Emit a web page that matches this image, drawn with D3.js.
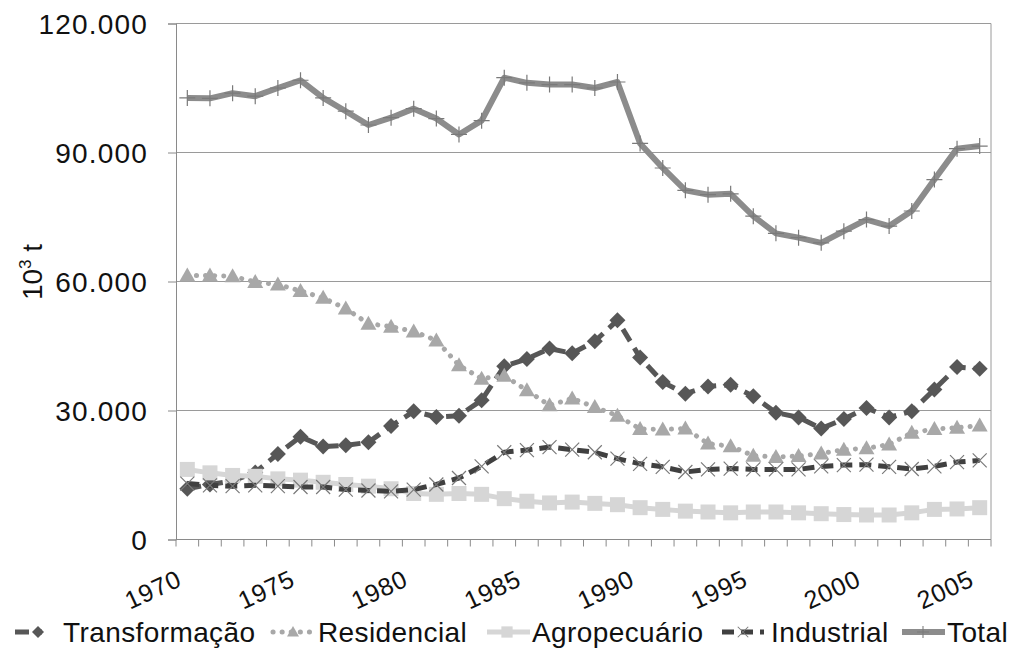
<!DOCTYPE html>
<html>
<head>
<meta charset="utf-8">
<script src="https://cdn.jsdelivr.net/npm/d3@7"></script>
<style>
  body { margin: 0; background: #fff; }
  text { font-family: "Liberation Sans", Arial, sans-serif; fill: #111; }
</style>
</head>
<body>
<script>
// years on the category axis
var years = d3.range(1970, 2006);
var yTicks = [0, 30000, 60000, 90000, 120000];

var transformacao = [11800, 12800, 13600, 15600, 19900, 23900, 21600, 21900, 22600, 26400,
  29800, 28500, 28800, 32400, 40300, 42000, 44400, 43300, 46100, 51000,
  42300, 36600, 33900, 35600, 36000, 33300, 29500, 28400, 25800, 28000,
  30600, 28400, 29800, 34900, 40100, 39700];
var residencial = [61400, 61400, 61200, 59900, 59300, 57800, 56200, 53700, 50200, 49500,
  48400, 46300, 40500, 37400, 38100, 34700, 31200, 32800, 30800, 28800,
  25700, 25600, 25800, 22300, 21700, 19500, 19200, 19400, 20000, 20900,
  21200, 22100, 24800, 25700, 26000, 26500];
var agropecuario = [16300, 15500, 14900, 14700, 14100, 13800, 13300, 12800, 12400, 11800,
  10700, 10500, 10700, 10500, 9500, 8900, 8500, 8700, 8400, 8100,
  7400, 7000, 6600, 6400, 6200, 6400, 6400, 6200, 6000, 5800,
  5700, 5700, 6200, 7000, 7100, 7400];
var industrial = [13000, 12600, 12400, 12600, 12400, 12200, 12200, 11600, 11400, 11200,
  11600, 12800, 14300, 17000, 20300, 20800, 21500, 20900, 20300, 18800,
  17600, 16900, 15700, 16300, 16500, 16300, 16300, 16300, 17000, 17300,
  17400, 16900, 16400, 17000, 18000, 18400];
var total = [102700, 102600, 103800, 103100, 105000, 106800, 102700, 99600, 96400, 98100,
  100200, 97900, 94200, 97400, 107400, 106200, 105800, 105800, 105000, 106400,
  92100, 86400, 81200, 80200, 80400, 75200, 71200, 70200, 69000, 71700,
  74400, 72900, 76400, 83700, 90900, 91500];

var width = 1014;
var height = 649;
var plot = { left: 176, right: 991, top: 23.5, bottom: 539.5 };

var series = [
  { name: "Transformação", values: transformacao, color: "#575757", width: 5, dash: "14,8", cap: "butt",
    marker: "M0,-8L8,0L0,8L-8,0Z", mFill: "#575757", mStroke: "none" },
  { name: "Residencial", values: residencial, color: "#a8a8a8", width: 5, dash: "0.1,9", cap: "round",
    marker: "M0,-8L8,6L-8,6Z", mFill: "#a8a8a8", mStroke: "none" },
  { name: "Agropecuário", values: agropecuario, color: "#d6d6d6", width: 5, dash: null, cap: "butt",
    marker: "M-7.5,-7.5h15v15h-15Z", mFill: "#d6d6d6", mStroke: "none" },
  { name: "Industrial", values: industrial, color: "#404040", width: 5, dash: "12,7", cap: "butt",
    marker: "M-7,-7L7,7M-7,7L7,-7", mFill: "none", mStroke: "#7a7a7a" },
  { name: "Total", values: total, color: "#8c8c8c", width: 6, dash: null, cap: "butt",
    marker: "M-8,0H8M0,-8V8", mFill: "none", mStroke: "#7a7a7a" }
];

var legendPos = [
  { sx: 15, ex: 42, mx: 38, tx: 63 },
  { sx: 273, ex: 313, mx: 293, tx: 318 },
  { sx: 487, ex: 530, mx: 507, tx: 532 },
  { sx: 722, ex: 764, mx: 743, tx: 771 },
  { sx: 902, ex: 945, mx: 923, tx: 947 }
];

var svg = d3.select("body")
  .append("svg")
  .attr("width", width)
  .attr("height", height);

var x = d3.scaleBand()
  .domain(years)
  .range([plot.left, plot.right])
  .padding(0);

var y = d3.scaleLinear()
  .domain([0, 120000])
  .range([plot.bottom, plot.top]);

var loc = d3.formatLocale({ decimal: ",", thousands: ".", grouping: [3], currency: ["", ""] });
var fmt = loc.format(",");

function cx(d, i) {
  return x(years[i]) + x.bandwidth() / 2;
}

// gridlines
svg.append("g")
  .selectAll("line")
  .data(yTicks.slice(1))
  .enter()
  .append("line")
  .attr("x1", plot.left)
  .attr("x2", plot.right)
  .attr("y1", function(d) { return y(d); })
  .attr("y2", function(d) { return y(d); })
  .attr("stroke", "#9a9a9a")
  .attr("stroke-width", 1);

// right border
svg.append("line")
  .attr("x1", plot.right).attr("x2", plot.right)
  .attr("y1", plot.top).attr("y2", plot.bottom)
  .attr("stroke", "#9a9a9a");

// y axis
var yAxis = svg.append("g")
  .attr("transform", "translate(" + plot.left + ",0)")
  .call(d3.axisLeft(y).tickValues(yTicks).tickFormat(fmt).tickSize(8).tickPadding(20));
yAxis.select(".domain").attr("stroke", "#8a8a8a");
yAxis.selectAll(".tick line").attr("stroke", "#8a8a8a");
yAxis.selectAll(".tick text")
  .attr("font-size", 28)
  .attr("letter-spacing", 1.2)
  .attr("dy", "0.36em")
  .attr("fill", "#111");

// x axis: ticks at band boundaries
var xAxis = svg.append("g");
xAxis.append("line")
  .attr("x1", plot.left).attr("x2", plot.right)
  .attr("y1", plot.bottom).attr("y2", plot.bottom)
  .attr("stroke", "#8a8a8a");
xAxis.selectAll(".xt")
  .data(years.concat([2006]))
  .enter()
  .append("line")
  .attr("class", "xt")
  .attr("x1", function(d, i) { return plot.left + i * x.bandwidth(); })
  .attr("x2", function(d, i) { return plot.left + i * x.bandwidth(); })
  .attr("y1", plot.bottom)
  .attr("y2", plot.bottom + 7)
  .attr("stroke", "#8a8a8a");
xAxis.selectAll(".xl")
  .data(years.filter(function(d) { return d % 5 === 0; }))
  .enter()
  .append("text")
  .attr("class", "xl")
  .attr("transform", function(d) {
    return "translate(" + (x(d) + x.bandwidth() / 2 - 4) + "," + 585 + ") rotate(-25)";
  })
  .attr("text-anchor", "end")
  .attr("font-size", 25)
  .attr("letter-spacing", 0.8)
  .text(function(d) { return d; });

// y axis title
var yt = svg.append("text")
  .attr("transform", "translate(42,272) rotate(-90)")
  .attr("text-anchor", "middle")
  .attr("font-size", 28);
yt.append("tspan").text("10");
yt.append("tspan").attr("font-size", 17).attr("dy", -11).text("3");
yt.append("tspan").attr("dy", 11).text(" t");

// series
var line = d3.line()
  .x(cx)
  .y(function(d) { return y(d); });

series.forEach(function(s) {
  var g = svg.append("g");
  g.append("path")
    .datum(s.values)
    .attr("d", line)
    .attr("fill", "none")
    .attr("stroke", s.color)
    .attr("stroke-width", s.width)
    .attr("stroke-linecap", s.cap)
    .attr("stroke-linejoin", "round")
    .attr("stroke-dasharray", s.dash);
  g.selectAll("path.m")
    .data(s.values)
    .enter()
    .append("path")
    .attr("class", "m")
    .attr("d", s.marker)
    .attr("transform", function(d, i) { return "translate(" + cx(d, i) + "," + y(d) + ")"; })
    .attr("fill", s.mFill)
    .attr("stroke", s.mStroke)
    .attr("stroke-width", 1.2);
});

// legend
var legend = svg.append("g");
series.forEach(function(s, i) {
  var p = legendPos[i];
  var ly = 632;
  legend.append("line")
    .attr("x1", p.sx).attr("x2", p.ex)
    .attr("y1", ly).attr("y2", ly)
    .attr("stroke", s.color)
    .attr("stroke-width", s.width)
    .attr("stroke-linecap", s.cap)
    .attr("stroke-dasharray", s.dash);
  legend.append("path")
    .attr("d", s.marker)
    .attr("transform", "translate(" + p.mx + "," + ly + ") scale(0.75)")
    .attr("fill", s.mFill)
    .attr("stroke", s.mStroke)
    .attr("stroke-width", 1.4);
  legend.append("text")
    .attr("x", p.tx)
    .attr("y", 642)
    .attr("font-size", 28)
    .attr("letter-spacing", 0.4)
    .text(s.name);
});
</script>
</body>
</html>
